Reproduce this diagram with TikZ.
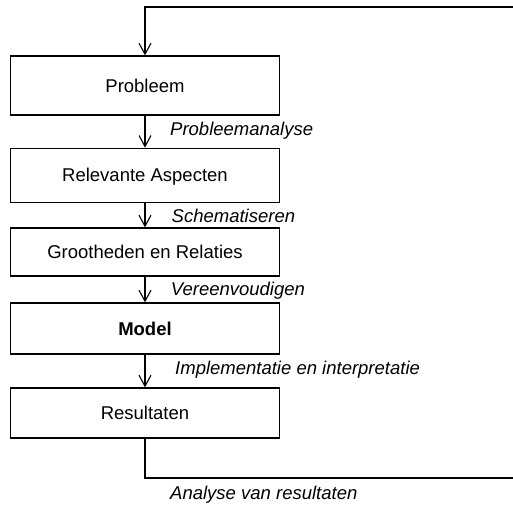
\documentclass[tikz,border=0pt]{standalone}
\usepackage{fontspec}
\setmainfont{Liberation Sans}
\usetikzlibrary{arrows.meta}
\begin{document}
\begin{tikzpicture}[x=1pt,y=-1pt,
  every node/.style={font=\fontsize{18.5}{22}\selectfont},
  stage/.style={draw=black,line width=1.3pt,minimum width=268.6pt,inner sep=0pt,
    text height=13.2pt,text depth=0pt},
  flowlabel/.style={anchor=base west,inner sep=0pt,font=\fontsize{18.5}{22}\selectfont\itshape},
  flow/.style={line width=1.3pt,-{Straight Barb[length=11pt,width=12pt,line width=1.1pt]}},
  loopline/.style={line width=1.3pt}]
  \useasboundingbox (0,0) rectangle (513,506);

  % the five stages of the modelling cycle
  \node[stage,minimum height=59pt] (p)  at (145,85.5)  {Probleem};
  \node[stage,minimum height=54pt] (ra) at (145,175.3) {Relevante Aspecten};
  \node[stage,minimum height=48pt] (gr) at (145,252)   {Grootheden en Relaties};
  \node[stage,minimum height=51pt] (m)  at (145,328.5) {\bfseries Model};
  \node[stage,minimum height=50pt] (r)  at (145,413)   {Resultaten};

  % steps between the stages
  \draw[flow] (p.south)  -- (ra.north);
  \draw[flow] (ra.south) -- (gr.north);
  \draw[flow] (gr.south) -- (m.north);
  \draw[flow] (m.south)  -- (r.north);

  \node[flowlabel] (l1) at (170,135.7) {Probleemanalyse};
  \node[flowlabel] (l2) at (171.5,222.7) {Schematiseren};
  \node[flowlabel] (l3) at (170.7,295) {Vereenvoudigen};
  \node[flowlabel] (l4) at (175,374) {Implementatie en interpretatie};
  \node[flowlabel] (l5) at (170,499) {Analyse van resultaten};

  % feedback loop back to the problem
  \coordinate (br) at (513,478);
  \coordinate (tr) at (513,7);
  \draw[loopline] (r.south) |- (br);
  \draw[flow] (tr) -| (p.north);
\end{tikzpicture}
\end{document}
